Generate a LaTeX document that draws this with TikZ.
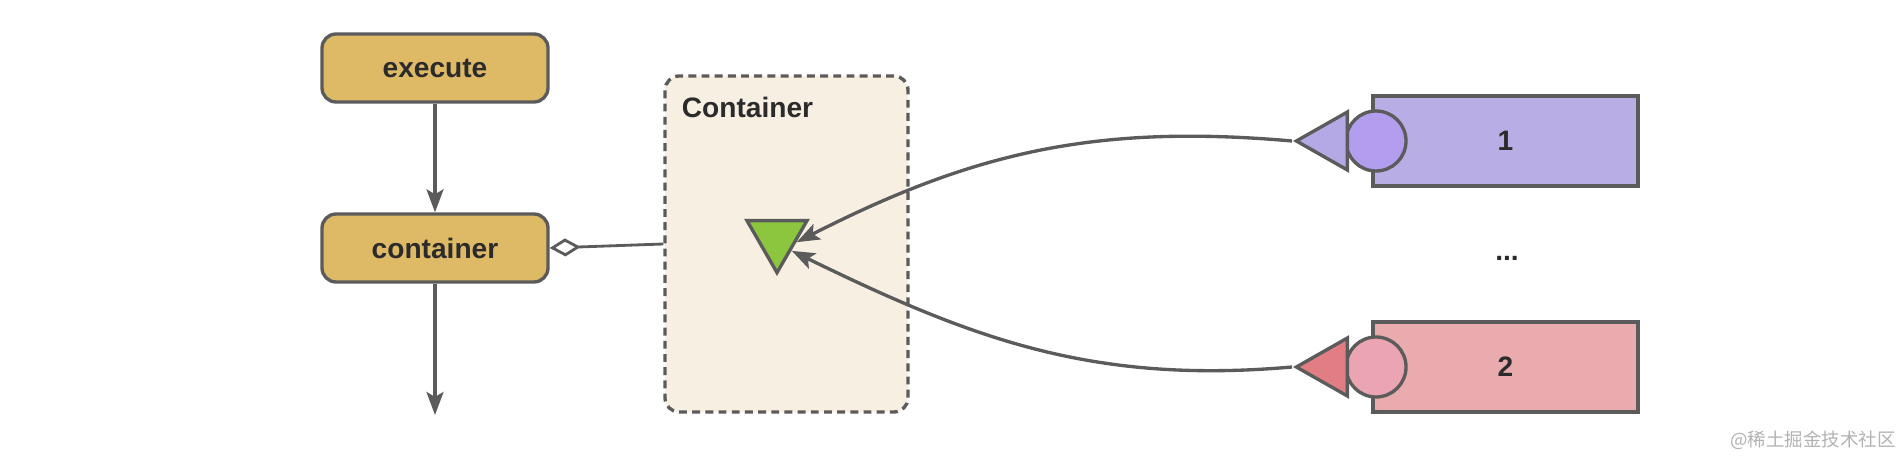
\documentclass[tikz,border=0pt]{standalone}
\usepackage{fontspec}
\setmainfont{Liberation Sans}
\newfontfamily\cjkfont{Noto Sans CJK SC}
\usetikzlibrary{arrows.meta,positioning,shapes.geometric,calc}
\definecolor{pgold}{HTML}{DEB966}
\definecolor{pcream}{HTML}{F7F0E2}
\definecolor{pgreen}{HTML}{8CC63E}
\definecolor{ppurple}{HTML}{B9ADE5}
\definecolor{cpurple}{HTML}{B39DEE}
\definecolor{tpurple}{HTML}{B4A9E4}
\definecolor{ppink}{HTML}{E9ABAE}
\definecolor{cpink}{HTML}{EBA4B2}
\definecolor{tpink}{HTML}{E07E83}
\definecolor{lgrey}{HTML}{5B5B5B}
\definecolor{ink}{HTML}{2B2B2B}
\tikzset{
  blk/.style={draw=lgrey,line width=1.9pt,rounded corners=8pt,minimum width=4.52cm,minimum height=1.36cm,
              fill=pgold,font=\fontsize{16}{19}\selectfont\bfseries,text=ink,inner sep=0pt},
  arr/.style={-{Stealth[length=4.6mm,width=3.4mm,inset=1mm]},line width=1.9pt,lgrey},
  lbl/.style={font=\fontsize{16}{19}\selectfont\bfseries,text=ink,inner sep=0pt},
}
\begin{document}
\begin{tikzpicture}[
  bar/.style={draw=lgrey,line width=1.9pt,minimum width=5.3cm,minimum height=1.8cm,font=\fontsize{16}{19}\selectfont\bfseries,text=ink},
  sock/.style={circle,draw=lgrey,line width=1.9pt,minimum size=1.2cm,inner sep=0pt},
  port/.style={isosceles triangle,isosceles triangle stretches,draw=lgrey,line width=1.9pt,inner sep=0pt}]
\useasboundingbox (0,0) rectangle (38,-9.16);
% call chain
\node[blk] (exec) at (8.70,-1.36) {execute};
\node[blk] (cont) at (8.70,-4.96) {container};
\coordinate (out) at (8.70,-8.30);
\draw[arr] (exec) -- (cont);
\draw[arr] (cont) -- (out);
% container box
\node[draw=lgrey,line width=1.9pt,dash pattern=on 4.5pt off 3pt,rounded corners=8pt,fill=pcream,
  minimum width=4.86cm,minimum height=6.72cm] (box) at (15.73,-4.88) {};
\node[lbl,anchor=base west] (boxlbl) at (13.63,-2.36) {Container};
\draw[{Diamond[open,length=6.2mm,width=3.6mm]}-,line width=1.6pt,lgrey] (cont.east) -- (box.west);
\node[port,fill=pgreen,shape border rotate=270,minimum width=1.2cm,minimum height=1.04cm,anchor=apex] (gr) at (15.54,-5.54) {};
\coordinate (gin1) at ($(gr.apex)!0.6!(gr.left corner)$);
\coordinate (gin2) at ($(gr.apex)!0.45!(gr.left corner)$);
% providers
\node[bar,fill=ppurple] (p1) at (30.11,-2.82) {1};
\node[sock,fill=cpurple] (c1) at (27.52,-2.82) {};
\node[port,fill=tpurple,shape border rotate=180,minimum width=1.16cm,minimum height=1.02cm,anchor=apex] (t1) at (25.84,-2.82) {};
\node[lbl] (dots) at (30.14,-5.16) {...};
\node[bar,fill=ppink] (p2) at (30.11,-7.34) {2};
\node[sock,fill=cpink] (c2) at (27.52,-7.34) {};
\node[port,fill=tpink,shape border rotate=180,minimum width=1.16cm,minimum height=1.02cm,anchor=apex] (t2) at (25.84,-7.34) {};
% injections
\draw[arr] (t1.apex) to[out=175,in=27] (gin1);
\draw[arr] (t2.apex) to[out=185,in=-26] (gin2);
% watermark
\node[font=\cjkfont\fontsize{10.5}{12}\selectfont,text=black!30,inner sep=0pt] (wm) at (36.26,-8.8) {@稀土掘金技术社区};
\end{tikzpicture}
\end{document}
